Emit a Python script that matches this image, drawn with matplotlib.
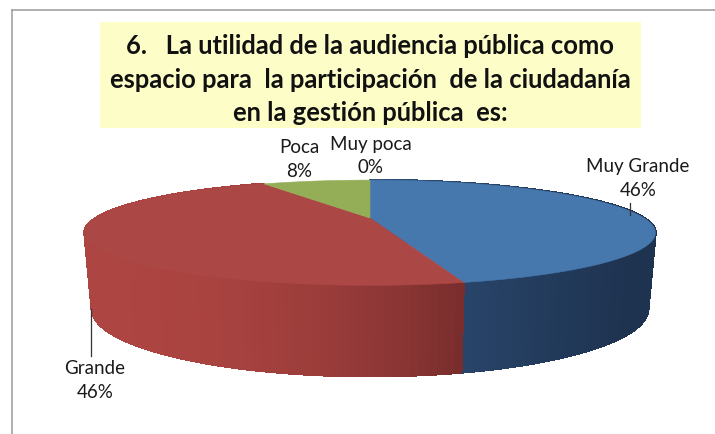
import matplotlib
matplotlib.use("Agg")
import matplotlib.pyplot as plt
from matplotlib.collections import PolyCollection
from matplotlib.colors import to_rgb
import numpy as np

# chart data
categories = ["Muy Grande", "Grande", "Poca", "Muy poca"]
values = [46, 46, 8, 0]
title_lines = [
    "6.   La utilidad de la audiencia pública como",
    "espacio para  la participación  de la ciudadanía",
    "en la gestión pública  es:",
]

top_colors = ["#4677ad", "#ab4744", "#93ae56", "#7d60a0"]
# side colours, from the left end of the slice to the right end
side_colors = {0: ("#2e4f78", "#1e3350"), 1: ("#ad4542", "#792e2d")}

plt.rcParams["font.family"] = ["Lato", "DejaVu Sans"]

fig = plt.figure(figsize=(7.15, 4.35), dpi=100)
ax = fig.add_axes([0, 0, 1, 1])
ax.set_xlim(0, 715)
ax.set_ylim(435, 0)
ax.axis("off")

# perspective of the disc
CX = 370
CY = 219
K = 0.28


def project(theta, plane="top"):
    # theta is clockwise from the back of the pie
    if plane == "top":
        f, g, cy = 274, 48.5, CY
    else:
        f, g, cy = 267, 62, 291
    den = 1 + K * np.cos(theta)
    return CX + f * np.sin(theta) / den, cy - g * np.cos(theta) / den


def mix(c1, c2, t):
    a, b = np.array(to_rgb(c1)), np.array(to_rgb(c2))
    return tuple(a + (b - a) * t)


edges = np.radians(np.cumsum([0] + values) * 3.6)

# sides first, the top goes over them
for i in range(len(values)):
    if i not in side_colors or values[i] == 0:
        continue
    th = np.linspace(edges[i], edges[i + 1], 120)
    xt, yt = project(th)
    xb, yb = project(th, "bottom")
    polys = []
    cols = []
    lo, hi = xt.min(), xt.max()
    for j in range(len(th) - 1):
        polys.append([(xt[j], yt[j]), (xt[j + 1], yt[j + 1]),
                      (xb[j + 1], yb[j + 1]), (xb[j], yb[j])])
        t = (xt[j] - lo) / (hi - lo)
        if i == 1:
            t = t ** 2.2
        else:
            t = min(t * 1.1, 1)
        cols.append(mix(side_colors[i][0], side_colors[i][1], t))
    ax.add_collection(PolyCollection(polys, facecolors=cols, edgecolors=cols,
                                     linewidths=1.2, antialiased=False))

for i in range(len(values)):
    if values[i] == 0:
        continue
    th = np.linspace(edges[i], edges[i + 1], 200)
    xs, ys = project(th)
    ax.fill(np.r_[CX, xs], np.r_[CY, ys], color=top_colors[i], lw=0.4)

# frame of the chart area
ax.plot([12, 12], [435, 11], color="#9a9a9a", lw=1.1)
ax.plot([12, 715], [11, 11], color="#9a9a9a", lw=1.1)

# title box
ax.fill([100, 641, 641, 100], [23, 23, 129, 129], color="#fdfdc8", lw=0)
for line, y in zip(title_lines, [46, 80, 113]):
    ax.text(370, y, line, ha="center", va="center", fontsize=18.4,
            fontweight="bold", color="#111111")

# data labels
label_pos = [(638, 167, 191), (95, 369, 393), (299, 148, 172), (371, 145, 168)]
for name, val, (x, y1, y2) in zip(categories, values, label_pos):
    ax.text(x, y1, name, ha="center", va="center", fontsize=13.5, color="#1a1a1a")
    ax.text(x, y2, "%d%%" % val, ha="center", va="center", fontsize=13.5, color="#1a1a1a")

# leader lines
ax.plot([91, 91], [310, 357], color="#333333", lw=0.9)
ax.plot([630, 630], [204, 216], color="#333333", lw=0.9)

fig.savefig("out.png", dpi=100)
